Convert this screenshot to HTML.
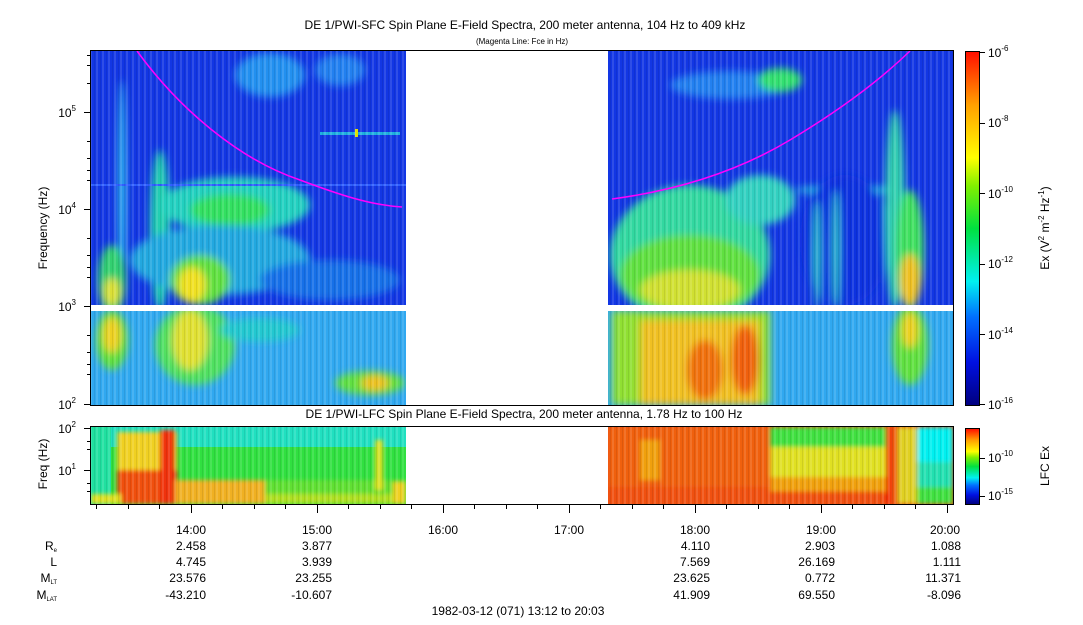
<!DOCTYPE html>
<html><head><meta charset="utf-8"><style>
body{margin:0;background:#fff;}
svg text{font-family:"Liberation Sans",Arial,sans-serif;fill:#000;}
</style></head><body>
<svg width="1083" height="620" viewBox="0 0 1083 620" xmlns="http://www.w3.org/2000/svg">
<defs>
<filter id="b4" x="-50%" y="-50%" width="200%" height="200%"><feGaussianBlur stdDeviation="4"/></filter>
<filter id="b2" x="-50%" y="-50%" width="200%" height="200%"><feGaussianBlur stdDeviation="2"/></filter>
<clipPath id="cLU"><rect x="91" y="51" width="315" height="254"/></clipPath>
<clipPath id="cLL"><rect x="91" y="311" width="315" height="94"/></clipPath>
<clipPath id="cRU"><rect x="608" y="51" width="345" height="254"/></clipPath>
<clipPath id="cRL"><rect x="608" y="311" width="345" height="94"/></clipPath>
<clipPath id="cFL"><rect x="91" y="427" width="315" height="77"/></clipPath>
<clipPath id="cFR"><rect x="608" y="427" width="345" height="77"/></clipPath>
<linearGradient id="cb" x1="0" y1="1" x2="0" y2="0">
<stop offset="0" stop-color="#000080"/><stop offset="0.12" stop-color="#0010e0"/><stop offset="0.25" stop-color="#0070ff"/><stop offset="0.35" stop-color="#00f0f0"/><stop offset="0.5" stop-color="#00e040"/><stop offset="0.62" stop-color="#80f000"/><stop offset="0.7" stop-color="#ffff00"/><stop offset="0.85" stop-color="#ffa000"/><stop offset="1" stop-color="#ff1000"/>
</linearGradient>
<pattern id="stripes" width="6" height="10" patternUnits="userSpaceOnUse"><rect width="2" height="10" fill="#fff" opacity="0.12"/><rect x="4" width="1" height="10" fill="#000" opacity="0.08"/></pattern>
</defs>

<text x="525" y="29" font-size="12" text-anchor="middle">DE 1/PWI-SFC  Spin Plane E-Field Spectra, 200 meter antenna, 104 Hz to 409 kHz</text>
<text x="522" y="44" font-size="8" text-anchor="middle">(Magenta Line: Fce in Hz)</text>
<text x="524" y="418" font-size="12" text-anchor="middle">DE 1/PWI-LFC  Spin Plane E-Field Spectra, 200 meter antenna, 1.78 Hz to 100 Hz</text>

<g clip-path="url(#cLU)">
<rect x="91" y="51" width="315" height="254" fill="#1236e4"/>
<g filter="url(#b4)">
<ellipse cx="270" cy="75" rx="35" ry="22" fill="#2090f0"/>
<ellipse cx="340" cy="70" rx="25" ry="16" fill="#2080f0"/>
<ellipse cx="122" cy="190" rx="4" ry="110" fill="#30c0f0"/>
<ellipse cx="160" cy="230" rx="10" ry="80" fill="#20d0b0"/>
<ellipse cx="235" cy="205" rx="75" ry="28" fill="#20d0c0"/>
<ellipse cx="230" cy="210" rx="40" ry="16" fill="#30e060"/>
<ellipse cx="220" cy="260" rx="90" ry="35" fill="#20a8e0"/>
<ellipse cx="200" cy="280" rx="30" ry="25" fill="#60e040"/>
<ellipse cx="192" cy="285" rx="14" ry="18" fill="#f0e020"/>
<ellipse cx="112" cy="280" rx="14" ry="35" fill="#30d070"/>
<ellipse cx="112" cy="292" rx="8" ry="14" fill="#e0e030"/>
<ellipse cx="330" cy="280" rx="70" ry="20" fill="#1870e8"/>
</g>
<rect x="320" y="132" width="80" height="3" fill="#20b0e0"/>
<rect x="355" y="129" width="3" height="8" fill="#e0e000"/>
<rect x="91" y="184" width="315" height="2" fill="#3060ff"/>
<rect x="91" y="51" width="315" height="254" fill="url(#stripes)"/>
</g>
<g clip-path="url(#cLL)">
<rect x="91" y="311" width="315" height="94" fill="#30a8f0"/>
<g filter="url(#b4)">
<ellipse cx="112" cy="340" rx="16" ry="30" fill="#60e040"/>
<ellipse cx="112" cy="335" rx="9" ry="18" fill="#f0d020"/>
<ellipse cx="195" cy="345" rx="40" ry="40" fill="#50e060"/>
<ellipse cx="190" cy="340" rx="18" ry="30" fill="#e0e030"/>
<ellipse cx="370" cy="383" rx="35" ry="12" fill="#60e040"/>
<ellipse cx="375" cy="383" rx="14" ry="8" fill="#f0c020"/>
<ellipse cx="260" cy="330" rx="40" ry="12" fill="#20c8d0"/>
</g>
<rect x="91" y="311" width="315" height="94" fill="url(#stripes)"/>
</g>

<g clip-path="url(#cRU)">
<rect x="608" y="51" width="345" height="254" fill="#1236e4"/>
<g filter="url(#b4)">
<ellipse cx="730" cy="85" rx="60" ry="14" fill="#2080f0"/>
<ellipse cx="780" cy="80" rx="22" ry="12" fill="#30e070"/>
<ellipse cx="690" cy="255" rx="80" ry="70" fill="#30d8a0"/>
<ellipse cx="690" cy="275" rx="70" ry="40" fill="#60e040"/>
<ellipse cx="690" cy="290" rx="50" ry="20" fill="#d0e030"/>
<ellipse cx="760" cy="200" rx="35" ry="25" fill="#30d0c0"/>
<ellipse cx="845" cy="190" rx="50" ry="5" fill="#20b0e0"/>
<ellipse cx="845" cy="240" rx="45" ry="65" fill="#1030e0"/>
<ellipse cx="895" cy="210" rx="10" ry="100" fill="#30d0b0"/>
<ellipse cx="910" cy="250" rx="14" ry="60" fill="#40e060"/>
<ellipse cx="910" cy="280" rx="10" ry="26" fill="#f0c020"/>
<ellipse cx="836" cy="250" rx="3" ry="60" fill="#30d0c0"/>
<ellipse cx="817" cy="255" rx="3" ry="55" fill="#30d0c0"/>
</g>
<rect x="608" y="51" width="345" height="254" fill="url(#stripes)"/>
</g>
<g clip-path="url(#cRL)">
<rect x="608" y="311" width="345" height="94" fill="#30a8f0"/>
<g filter="url(#b4)">
<rect x="612" y="311" width="158" height="94" fill="#90e030"/>
<rect x="640" y="320" width="120" height="85" fill="#f0c020"/>
<ellipse cx="705" cy="370" rx="18" ry="30" fill="#f07010"/>
<ellipse cx="745" cy="360" rx="14" ry="35" fill="#f06010"/>
<ellipse cx="910" cy="345" rx="18" ry="40" fill="#60e040"/>
<ellipse cx="910" cy="330" rx="8" ry="18" fill="#f0d020"/>
</g>
<rect x="608" y="311" width="345" height="94" fill="url(#stripes)"/>
</g>

<path d="M137,51 C180,110 240,160 300,180 C340,195 370,205 402,207" fill="none" stroke="#ff00ff" stroke-width="1.5"/>
<path d="M612,199 C680,190 740,170 790,140 C840,110 880,80 910,51" fill="none" stroke="#ff00ff" stroke-width="1.5"/>

<g clip-path="url(#cFL)">
<rect x="91" y="427" width="315" height="77" fill="#30e040"/>
<rect x="91" y="427" width="315" height="20" fill="#20e0c0"/>
<rect x="91" y="427" width="20" height="77" fill="#20e0a0"/>
<g filter="url(#b2)">
<rect x="117" y="432" width="60" height="72" fill="#f0d020"/>
<rect x="117" y="470" width="60" height="34" fill="#f05010"/>
<rect x="160" y="430" width="15" height="74" fill="#f03010"/>
<rect x="175" y="480" width="90" height="24" fill="#f0b020"/>
<rect x="265" y="480" width="140" height="14" fill="#60e030"/>
<rect x="265" y="494" width="140" height="10" fill="#b0e020"/>
<rect x="91" y="494" width="30" height="10" fill="#e0e020"/>
<rect x="375" y="440" width="8" height="50" fill="#e0e020"/>
<rect x="393" y="482" width="13" height="22" fill="#f0d020"/>
</g>
<rect x="91" y="427" width="315" height="77" fill="url(#stripes)"/>
</g>
<g clip-path="url(#cFR)">
<rect x="608" y="427" width="345" height="77" fill="#f05010"/>
<g filter="url(#b2)">
<rect x="608" y="427" width="160" height="60" fill="#f06010"/>
<rect x="640" y="440" width="20" height="40" fill="#f0a010"/>
<rect x="770" y="427" width="120" height="20" fill="#40e040"/>
<rect x="770" y="447" width="120" height="30" fill="#e0e020"/>
<rect x="770" y="477" width="120" height="15" fill="#f0a010"/>
<rect x="897" y="427" width="20" height="77" fill="#e0d020"/>
<rect x="917" y="427" width="36" height="35" fill="#00f0f0"/>
<rect x="917" y="462" width="36" height="25" fill="#20e0b0"/>
<rect x="917" y="487" width="36" height="17" fill="#40e040"/>
<rect x="886" y="427" width="4" height="77" fill="#f02000"/>
</g>
<rect x="608" y="427" width="345" height="77" fill="url(#stripes)"/>
</g>

<g fill="none" stroke="#000" stroke-width="1">
<rect x="90.5" y="50.5" width="863" height="355"/>
<rect x="90.5" y="426.5" width="863" height="78"/>
<rect x="965.5" y="51.5" width="14" height="354"/>
<rect x="965.5" y="428.5" width="14" height="76"/>
</g>
<rect x="966" y="52" width="13" height="353" fill="url(#cb)"/>
<rect x="966" y="429" width="13" height="75" fill="url(#cb)"/>

<g stroke="#000" stroke-width="1">
<line x1="84" y1="112.5" x2="91" y2="112.5"/><line x1="84" y1="209.5" x2="91" y2="209.5"/>
<line x1="84" y1="306.5" x2="91" y2="306.5"/><line x1="84" y1="404.5" x2="91" y2="404.5"/>
<line x1="84" y1="428.5" x2="91" y2="428.5"/><line x1="84" y1="470.5" x2="91" y2="470.5"/>
<line x1="980" y1="52.5" x2="985" y2="52.5"/><line x1="980" y1="123.5" x2="985" y2="123.5"/>
<line x1="980" y1="193.5" x2="985" y2="193.5"/><line x1="980" y1="264.5" x2="985" y2="264.5"/>
<line x1="980" y1="334.5" x2="985" y2="334.5"/><line x1="980" y1="404.5" x2="985" y2="404.5"/>
<line x1="980" y1="458.5" x2="985" y2="458.5"/><line x1="980" y1="496.5" x2="985" y2="496.5"/>
</g>
<g stroke="#000" stroke-width="1">
<line x1="87" y1="55.5" x2="91" y2="55.5"/><line x1="87" y1="65.5" x2="91" y2="65.5"/><line x1="87" y1="83.5" x2="91" y2="83.5"/>
<line x1="87" y1="141.5" x2="91" y2="141.5"/><line x1="87" y1="158.5" x2="91" y2="158.5"/><line x1="87" y1="170.5" x2="91" y2="170.5"/><line x1="87" y1="180.5" x2="91" y2="180.5"/>
<line x1="87" y1="238.5" x2="91" y2="238.5"/><line x1="87" y1="255.5" x2="91" y2="255.5"/><line x1="87" y1="267.5" x2="91" y2="267.5"/><line x1="87" y1="277.5" x2="91" y2="277.5"/>
<line x1="87" y1="335.5" x2="91" y2="335.5"/><line x1="87" y1="352.5" x2="91" y2="352.5"/><line x1="87" y1="364.5" x2="91" y2="364.5"/><line x1="87" y1="374.5" x2="91" y2="374.5"/>
<line x1="87" y1="483.5" x2="91" y2="483.5"/><line x1="87" y1="491.5" x2="91" y2="491.5"/><line x1="87" y1="441.5" x2="91" y2="441.5"/><line x1="87" y1="449.5" x2="91" y2="449.5"/>
</g>
<g font-size="12" text-anchor="end">
<text x="76" y="117">10<tspan font-size="8" dy="-6">5</tspan></text>
<text x="76" y="214">10<tspan font-size="8" dy="-6">4</tspan></text>
<text x="76" y="311">10<tspan font-size="8" dy="-6">3</tspan></text>
<text x="76" y="409">10<tspan font-size="8" dy="-6">2</tspan></text>
<text x="76" y="433">10<tspan font-size="8" dy="-6">2</tspan></text>
<text x="76" y="475">10<tspan font-size="8" dy="-6">1</tspan></text>
</g>
<text transform="translate(47,228) rotate(-90)" font-size="12" text-anchor="middle">Frequency (Hz)</text>
<text transform="translate(47,464) rotate(-90)" font-size="12" text-anchor="middle">Freq (Hz)</text>
<g font-size="12">
<text x="988" y="57">10<tspan font-size="8" dy="-6">-6</tspan></text>
<text x="988" y="127">10<tspan font-size="8" dy="-6">-8</tspan></text>
<text x="988" y="198">10<tspan font-size="8" dy="-6">-10</tspan></text>
<text x="988" y="268">10<tspan font-size="8" dy="-6">-12</tspan></text>
<text x="988" y="339">10<tspan font-size="8" dy="-6">-14</tspan></text>
<text x="988" y="409">10<tspan font-size="8" dy="-6">-16</tspan></text>
<text x="988" y="462">10<tspan font-size="8" dy="-6">-10</tspan></text>
<text x="988" y="500">10<tspan font-size="8" dy="-6">-15</tspan></text>
</g>
<text transform="translate(1049,228) rotate(-90)" font-size="12" text-anchor="middle">Ex (V<tspan font-size="8" dy="-5">2</tspan><tspan dy="5"> m</tspan><tspan font-size="8" dy="-5">-2</tspan><tspan dy="5"> Hz</tspan><tspan font-size="8" dy="-5">-1</tspan><tspan dy="5">)</tspan></text>
<text transform="translate(1049,466) rotate(-90)" font-size="12" text-anchor="middle">LFC Ex</text>

<g stroke="#000" stroke-width="1">
<path d="M96.5,505v4M128.5,505v4M159.5,505v4M191.5,505v8M222.5,505v4M254.5,505v4M285.5,505v4M317.5,505v8M348.5,505v4M380.5,505v4M411.5,505v4M443.5,505v8M474.5,505v4M506.5,505v4M537.5,505v4M569.5,505v8M600.5,505v4M632.5,505v4M663.5,505v4M695.5,505v8M726.5,505v4M758.5,505v4M789.5,505v4M821.5,505v8M852.5,505v4M884.5,505v4M915.5,505v4M947.5,505v8"/>
</g>
<g font-size="12" text-anchor="middle">
<text x="191" y="534">14:00</text><text x="317" y="534">15:00</text><text x="443" y="534">16:00</text>
<text x="569" y="534">17:00</text><text x="695" y="534">18:00</text><text x="821" y="534">19:00</text><text x="945" y="534">20:00</text>
</g>
<g font-size="12" text-anchor="end">
<text x="206" y="550">2.458</text><text x="332" y="550">3.877</text><text x="710" y="550">4.110</text><text x="835" y="550">2.903</text><text x="961" y="550">1.088</text>
<text x="206" y="566">4.745</text><text x="332" y="566">3.939</text><text x="710" y="566">7.569</text><text x="835" y="566">26.169</text><text x="961" y="566">1.111</text>
<text x="206" y="582">23.576</text><text x="332" y="582">23.255</text><text x="710" y="582">23.625</text><text x="835" y="582">0.772</text><text x="961" y="582">11.371</text>
<text x="206" y="599">-43.210</text><text x="332" y="599">-10.607</text><text x="710" y="599">41.909</text><text x="835" y="599">69.550</text><text x="961" y="599">-8.096</text>
<text x="57" y="550">R<tspan font-size="6" dy="2">e</tspan></text>
<text x="57" y="566">L</text>
<text x="57" y="582">M<tspan font-size="6" dy="2">LT</tspan></text>
<text x="57" y="599">M<tspan font-size="6" dy="2">LAT</tspan></text>
</g>
<text x="518" y="615" font-size="12" text-anchor="middle">1982-03-12 (071) 13:12 to 20:03</text>
</svg>
</body></html>
